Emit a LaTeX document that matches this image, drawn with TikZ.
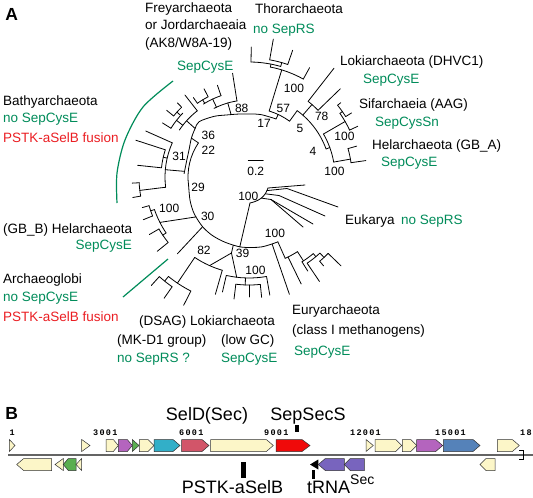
\documentclass[tikz,border=0pt]{standalone}
\usepackage{fontspec}
\setmainfont{Liberation Sans}
\newfontfamily\genomefont[LetterSpace=15]{Liberation Mono}
\definecolor{sgreen}{RGB}{0,140,90}
\definecolor{sred}{RGB}{235,30,35}
\definecolor{gcream}{RGB}{252,246,200}
\definecolor{gpurple}{RGB}{180,100,190}
\definecolor{ggreen}{RGB}{90,175,80}
\definecolor{gteal}{RGB}{50,175,200}
\definecolor{gpink}{RGB}{210,85,105}
\definecolor{gred}{RGB}{240,10,10}
\definecolor{gblue}{RGB}{85,130,185}
\definecolor{gviolet}{RGB}{120,100,190}
\definecolor{gaxis}{RGB}{100,100,100}
\definecolor{gedge}{RGB}{50,50,50}
\newcommand\trad[3]{\draw[tree] (#1:#2) -- (#1:#3);}
\newcommand\tarc[3]{\draw[tree] (#2:#1) arc[start angle=#2, end angle=#3, radius=#1];}
\newcommand\fgene[4]{\filldraw[gene, fill=#4] (#1,439.5) -- ({#2-#3},439.5) -- (#2,445.5) -- ({#2-#3},451.5) -- (#1,451.5) -- cycle;}
\newcommand\ftri[3]{\filldraw[gene, fill=#3] (#1,439.5) -- (#2,445.5) -- (#1,451.5) -- cycle;}
\newcommand\rgene[4]{\filldraw[gene, fill=#4] (#2,458.5) -- ({#1+#3},458.5) -- (#1,464.5) -- ({#1+#3},470.5) -- (#2,470.5) -- cycle;}
\newcommand\rtri[3]{\filldraw[gene, fill=#3] (#2,458.5) -- (#1,464.5) -- (#2,470.5) -- cycle;}
\tikzset{
  tree/.style={line width=0.8pt, line cap=round, line join=round},
  gene/.style={draw=gedge, line width=0.5pt, line join=miter},
  lab/.style={inner sep=0pt, font=\fontsize{13.5}{16}\selectfont, anchor=base west},
  glab/.style={lab, text=sgreen},
  rlab/.style={lab, text=sred},
  bs/.style={inner sep=0pt, font=\fontsize{12}{14}\selectfont},
  big/.style={inner sep=0pt, font=\fontsize{18}{20}\selectfont, anchor=base},
  num/.style={inner sep=0pt, font=\genomefont\bfseries\fontsize{8.5}{8.5}\selectfont, anchor=base west},
  panel/.style={inner sep=0pt, font=\bfseries\fontsize{17.5}{18}\selectfont}
}
\begin{document}
\begin{tikzpicture}[x=1pt, y=1pt, yscale=-1]
\useasboundingbox (0,0) rectangle (533,498);
\fill[white] (0,0) rectangle (533,498);

% ---------------- Panel A: tree ----------------
\begin{scope}[shift={(249,177)}]
% backbone
\draw[tree] plot[smooth] coordinates {(66:71) (80:71) (96:70.5) (110:69.5) (122:69) (133:68) (146:66) (158:63.5) (172:61)} arc[start angle=172, end angle=214, radius=61];
\trad{214}{61}{69.5}
\draw[tree] plot[smooth] coordinates {(183:65) (196:64.5) (205:66) (214:69.5) (222:72.5) (228:74.5) (240:70) (250:66) (263:63.5) (280:63.5) (295:64)};
% node 31 group
\trad{185}{65}{84}
\tarc{84}{173}{204}
\trad{204}{84}{113}
\trad{173}{84}{110}
\tarc{110}{170}{177}
\trad{170}{110}{118}
\trad{177}{110}{117}
\trad{193}{84}{88}
\tarc{88}{186}{198}
\trad{198}{88}{119}
\trad{186}{88}{112}
% upper Bathyarchaeota group
\trad{222}{72.5}{84}
\tarc{84}{214}{232}
\trad{232}{84}{104}
\trad{218}{84}{92}
\tarc{92}{212}{224}
\trad{212}{92}{102}
\trad{222}{92}{97}
\tarc{97}{219}{226}
\trad{219}{97}{106}
\trad{226}{97}{103}
% Freyarchaeota
\trad{254}{65.2}{77}
\tarc{77}{243}{261}
\trad{261}{77}{105}
\trad{245}{77}{86}
\tarc{86}{238}{251}
\trad{251}{86}{97}
\trad{239}{86}{90}
\tarc{90}{235}{243}
\trad{243}{90}{99}
\trad{235}{90}{97}
% node 57
\trad{295}{64}{69}
\tarc{69}{287}{306}
% Thorarchaeota
\trad{287}{69}{112}
\tarc{112}{281}{299}
\trad{299}{112}{125}
\trad{281}{112}{115}
\tarc{115}{271}{286}
\trad{271}{115}{130}
\trad{286}{115}{119}
\tarc{119}{280}{289}
\trad{280}{119}{140}
\trad{289}{119}{134}
% node 5
\trad{306}{69}{82}
\tarc{82}{306}{340}
% Lokiarchaeota DHVC1
\trad{311}{82}{96}
\tarc{96}{308}{316}
\trad{308}{96}{138}
\trad{316}{96}{127}
% node 4
\trad{340}{82}{86}
\tarc{86}{330}{350}
% Sifarchaeia
\trad{330}{86}{111}
\tarc{111}{325}{335}
\trad{335}{111}{120}
\trad{325}{111}{114}
\tarc{114}{321}{328}
\trad{321}{114}{118}
\trad{328}{114}{121}
% Helarchaeota GB_A
\trad{350}{86}{103}
\tarc{103}{344}{352}
\trad{344}{103}{112}
\trad{352}{103}{118}
% Helarchaeota GB_B
\draw[tree] (143:66.3) -- (153:100);
\tarc{100}{146}{161}
\trad{161}{100}{104}
\tarc{104}{158}{164}
\trad{158}{104}{114}
\trad{164}{104}{111}
\trad{146}{100}{104}
\tarc{104}{141}{150}
\trad{141}{104}{118}
\trad{150}{104}{115}
% Archaeoglobi
\trad{133}{68}{105}
% node 39, DSAG, low GC
\coordinate (p39) at (103:78);
\draw[tree] (103:70) -- (p39);
\draw[tree] (p39) -- (114:97);
\tarc{97}{106}{124}
\trad{106}{97}{122}
\trad{124}{97}{128}
\tarc{128}{117}{129}
\trad{117}{128}{144}
\trad{129}{128}{134}
\tarc{134}{125}{132}
\trad{125}{134}{148}
\trad{132}{134}{146}
\draw[tree] (p39) -- (97:101);
\tarc{101}{80}{103}
\trad{103}{101}{118}
\trad{80}{101}{120}
\trad{92}{101}{108}
\tarc{108}{84}{97}
\trad{97}{108}{123}
\trad{90}{108}{120}
\trad{84}{108}{121}
% Euryarchaeota
\trad{71}{71}{124}
\trad{66}{71}{89}
\tarc{89}{57}{66}
\trad{64}{89}{119}
\trad{57}{89}{100}
\tarc{100}{50}{58}
\trad{58}{100}{111}
\trad{50}{100}{104}
\tarc{104}{47}{56}
\trad{56}{104}{126}
\trad{47}{104}{110}
\tarc{110}{44}{50}
\trad{50}{110}{116}
\trad{44}{110}{128}
\coordinate (ek0) at (97.5:70.5);
\end{scope}
% Eukarya
\coordinate (ek1) at (250,203);
\coordinate (ekA) at (268,188);
\draw[tree] (ek0) -- (ek1);
\draw[tree] (ek1) .. controls (259,201) and (265,197) .. (ekA);
\draw[tree] (ekA) -- (305,185);
\draw[tree] (267,190.6) -- (287,188.5) -- (338,207);
\draw[tree] (265.2,193.8) -- (279,195.5) -- (325,216);
\draw[tree] (261.3,198.1) -- (271,199.5) -- (303,227);
\draw[tree] (271,199.5) -- (313,224);
% scale bar
\coordinate (sb1) at (248.3,160.7);
\coordinate (sb2) at (263.3,160.7);
\draw[tree] (sb1) -- (sb2);
\node[bs] (sbl) at (255.8,171.7) {0.2};
% green marks
\draw[sgreen, line width=1.2pt] plot[smooth] coordinates {(173,81) (143,107) (125,140) (117,173) (117,203)};
\coordinate (gl1) at (168,259);
\coordinate (gl2) at (123,297);
\draw[sgreen, line width=1.2pt] (gl1) -- (gl2);

% bootstrap values
\node[bs] (b88) at (241.7,108.3) {88};
\node[bs] (b17) at (264,123.3) {17};
\node[bs] (b36) at (208.3,135) {36};
\node[bs] (b22) at (208.3,150) {22};
\node[bs] (b31) at (179,156.7) {31};
\node[bs] (b29) at (198,187.5) {29};
\node[bs] (b30) at (207.7,216.7) {30};
\node[bs] (b82) at (204,250.2) {82};
\node[bs] (b39) at (242.5,253.5) {39};
\node[bs] (b100l) at (255.5,270.5) {100};
\node[bs] (b100e) at (275,233.3) {100};
\node[bs] (b100k) at (248.3,196) {100};
\node[bs] (b100g) at (169.2,208.3) {100};
\node[bs] (b57) at (283.3,108.3) {57};
\node[bs] (b100t) at (294,88) {100};
\node[bs] (b5) at (300,128.3) {5};
\node[bs] (b78) at (321.7,116.7) {78};
\node[bs] (b100s) at (344.5,136.7) {100};
\node[bs] (b4) at (313,151.5) {4};
\node[bs] (b100h) at (334.5,171) {100};

% taxon labels
\node[panel] (pa) at (11.7,14.2) {A};
\node[lab] (f1) at (145,12) {Freyarchaeota};
\node[lab] (f2) at (145,29.5) {or Jordarchaeaia};
\node[lab] (f3) at (145,47.5) {(AK8/W8A-19)};
\node[glab] (f4) at (177,70) {SepCysE};
\node[lab] (t1) at (255,13.5) {Thorarchaeota};
\node[glab] (t2) at (253,33.5) {no SepRS};
\node[lab] (l1) at (340,65) {Lokiarchaeota (DHVC1)};
\node[glab] (l2) at (363,83.5) {SepCysE};
\node[lab] (s1) at (359,108.5) {Sifarchaeia (AAG)};
\node[glab] (s2) at (375,126) {SepCysSn};
\node[lab] (h1) at (372,149) {Helarchaeota (GB\_A)};
\node[glab] (h2) at (381,166.5) {SepCysE};
\node[lab] (ba1) at (3,105) {Bathyarchaeota};
\node[glab] (ba2) at (3,122.5) {no SepCysE};
\node[rlab] (ba3) at (3,142.5) {PSTK-aSelB fusion};
\node[lab] (hb1) at (3,233.5) {(GB\_B) Helarchaeota};
\node[glab, anchor=base east] (hb2) at (132,249.5) {SepCysE};
\node[lab] (ag1) at (3,283.5) {Archaeoglobi};
\node[glab] (ag2) at (3,301.5) {no SepCysE};
\node[rlab] (ag3) at (3,321.5) {PSTK-aSelB fusion};
\node[lab] (d1) at (139,325) {(DSAG) Lokiarchaeota};
\node[lab] (d2) at (117,344) {(MK-D1 group)};
\node[glab] (d3) at (117,362.5) {no SepRS ?};
\node[lab] (lg1) at (221,344) {(low GC)};
\node[glab] (lg2) at (221,362.5) {SepCysE};
\node[lab] (e1) at (292,314) {Euryarchaeota};
\node[lab] (e2) at (292,334) {(class I methanogens)};
\node[glab] (e3) at (294,355) {SepCysE};
\node[lab] (k1) at (345,224) {Eukarya};
\node[glab] (k2) at (401,224) {no SepRS};

% ---------------- Panel B: gene map ----------------
\node[panel] (pb) at (11.7,413.3) {B};
\coordinate (ax1) at (8,455);
\coordinate (ax2) at (533,455);
\draw[gaxis, line width=1.6pt] (ax1) -- (ax2);
\draw[black, line width=0.7pt] (519,450.5) -- (523,450.5) -- (523,459.5) -- (519,459.5);
% forward genes
\ftri{9.3}{15}{gcream}
\ftri{81.7}{90}{gcream}
\fgene{106}{118.3}{5}{gcream}
\fgene{118.3}{132.3}{5}{gpurple}
\ftri{132.3}{139}{ggreen}
\fgene{139.3}{154}{6}{gcream}
\fgene{154}{180}{7}{gteal}
\fgene{181.7}{209}{7}{gpink}
\fgene{210.7}{273.3}{7}{gcream}
\fgene{276}{310}{8}{gred}
\ftri{366}{373.3}{gcream}
\fgene{375}{401.7}{6}{gcream}
\fgene{402.3}{416.7}{6}{gcream}
\fgene{416.7}{442.7}{7}{gpurple}
\fgene{443.3}{480}{7}{gblue}
\fgene{497.3}{519.3}{7}{gcream}
% reverse genes
\rgene{16.7}{51.7}{7}{gcream}
\rtri{55}{63.3}{gcream}
\rgene{63.3}{76}{5}{ggreen}
\rtri{76}{81.7}{gcream}
\fill[black] (318.3,459.5) -- (310,464.5) -- (318.3,469.5) -- cycle;
\rgene{318.3}{344.3}{7}{gviolet}
\rgene{344.3}{364.3}{6}{gviolet}
\rgene{480}{495}{6}{gcream}
% coordinates
\node[num] (n1) at (9.5,435) {1};
\node[num] (n3) at (93,435) {3001};
\node[num] (n6) at (179,435) {6001};
\node[num] (n9) at (264,435) {9001};
\node[num] (n12) at (350,435) {12001};
\node[num] (n15) at (435,435) {15001};
\node[num] (n18) at (520,435) {18};
% gene labels and ticks
\node[big] (seld) at (207,420) {SelD(Sec)};
\node[big] (sepsecs) at (308,420) {SepSecS};
\fill[black] (295,425) rectangle (299.3,432.3);
\fill[black] (240.7,461.7) rectangle (245.7,477.5);
\node[big] (pstk) at (232.5,493.5) {PSTK-aSelB};
\fill[black] (311.7,470) rectangle (315,479);
\node[big, anchor=base west] (trna) at (307,493.5) {tRNA\raisebox{9pt}{\fontsize{14}{14}\selectfont Sec}};
\end{tikzpicture}
\end{document}
